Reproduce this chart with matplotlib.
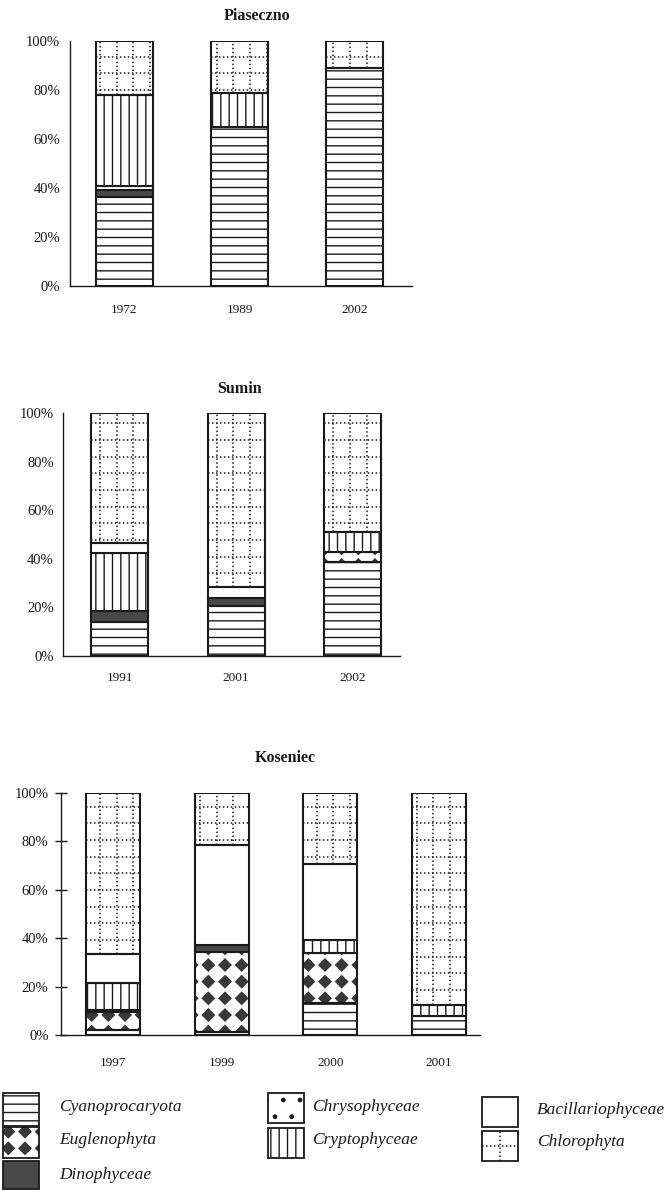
import numpy as np
import matplotlib
matplotlib.use('Agg')
import matplotlib.pyplot as plt
from matplotlib.patches import Rectangle
from matplotlib.lines import Line2D
from matplotlib.collections import PolyCollection
from matplotlib.transforms import IdentityTransform

plt.rcParams['font.family'] = ['Liberation Serif', 'DejaVu Serif']
plt.rcParams['hatch.linewidth'] = 1.0
plt.rcParams['hatch.color'] = '#1a1a1a'

W, H = 668, 1190
INK = '#1a1a1a'
STEP = 100 / 6  # hatch repeat in pixels at 100 dpi

groups = ['Cyanoprocaryota', 'Euglenophyta', 'Dinophyceae', 'Chrysophyceae',
          'Cryptophyceae', 'Bacillariophyceae', 'Chlorophyta']

# shares in % (bottom to top, same order as groups)
piaseczno_years = ['1972', '1989', '2002']
piaseczno_cyano = [36.5, 64.7, 89.0]
piaseczno_eugl = [0, 0, 0]
piaseczno_dino = [2.7, 0, 0]
piaseczno_chryso = [1.5, 0, 0]
piaseczno_crypto = [37.3, 14.0, 0]
piaseczno_bacil = [0, 0, 0]
piaseczno_chloro = [22.0, 21.3, 11.0]

sumin_years = ['1991', '2001', '2002']
sumin_cyano = [14.0, 20.5, 38.8]
sumin_eugl = [0, 0, 4.1]
sumin_dino = [4.6, 3.5, 0]
sumin_chryso = [0, 4.5, 0]
sumin_crypto = [23.9, 0, 8.2]
sumin_bacil = [4.1, 0, 0]
sumin_chloro = [53.4, 71.5, 48.9]

koseniec_years = ['1997', '1999', '2000', '2001']
koseniec_cyano = [2.0, 1.4, 13.2, 7.7]
koseniec_eugl = [7.5, 33.1, 20.6, 0]
koseniec_dino = [1.0, 2.7, 0, 0]
koseniec_chryso = [0, 0, 0, 0]
koseniec_crypto = [11.0, 0, 5.5, 4.5]
koseniec_bacil = [12.0, 41.2, 31.3, 0]
koseniec_chloro = [66.5, 21.6, 29.4, 87.8]

styles = {
    'Cyanoprocaryota': dict(facecolor='white', hatch='--'),
    'Euglenophyta': dict(facecolor='none'),
    'Dinophyceae': dict(facecolor='#484848'),
    'Chrysophyceae': dict(facecolor='white', hatch='.'),
    'Cryptophyceae': dict(facecolor='white', hatch='||'),
    'Bacillariophyceae': dict(facecolor='white'),
    'Chlorophyta': dict(facecolor='none'),
}


def px_box(left, top, right, bottom):
    return [left / W, 1 - bottom / H, (right - left) / W, (bottom - top) / H]


def dotted_grid(ax, patch, only_cross=False):
    bb = patch.get_window_extent()
    if only_cross:
        xs = [(bb.x0 + bb.x1) / 2]
        ys = [(bb.y0 + bb.y1) / 2]
    else:
        xs = np.arange(np.ceil(bb.x0 / STEP) * STEP, bb.x1, STEP)
        ys = np.arange(np.ceil(bb.y0 / STEP) * STEP, bb.y1, STEP)
    segs = [([x, x], [bb.y0, bb.y1]) for x in xs] + [([bb.x0, bb.x1], [y, y]) for y in ys]
    for sx, sy in segs:
        ln = Line2D(sx, sy, transform=IdentityTransform(), color=INK, lw=1.1,
                    ls=(0, (1, 1.6)), zorder=0.5)
        ax.add_artist(ln)
        ln.set_clip_path(patch)


def diamonds(ax, patch, half=7.0):
    bb = patch.get_window_extent()
    xs = np.arange(np.floor(bb.x0 / STEP) * STEP + STEP / 2, bb.x1 + STEP, STEP)
    ys = np.arange(np.floor(bb.y0 / STEP) * STEP + STEP / 2, bb.y1 + STEP, STEP)
    verts = [[(cx - half, cy), (cx, cy + half), (cx + half, cy), (cx, cy - half)]
             for cx in xs for cy in ys]
    pc = PolyCollection(verts, transform=IdentityTransform(), facecolors='#383838',
                        edgecolors='none', zorder=0.5)
    ax.add_artist(pc)
    pc.set_clip_path(patch)


def draw_panel(box, years, shares, title, title_xy, xlim, width, ticks, ypad, xpad):
    ax = fig.add_axes(px_box(*box))
    ax.set_xlim(*xlim)
    ax.set_ylim(0, 100)
    x = np.arange(len(years))
    bottom = np.zeros(len(years))
    for name, vals in zip(groups, shares):
        vals = np.array(vals, dtype=float)
        bars = ax.bar(x, vals, width, bottom=bottom, edgecolor=INK, linewidth=1.5,
                      **styles[name])
        for rect, v in zip(bars, vals):
            if v <= 0:
                rect.set_visible(False)
            elif name == 'Chlorophyta':
                dotted_grid(ax, rect)
            elif name == 'Euglenophyta':
                diamonds(ax, rect)
        bottom += vals
    for s in ['top', 'right']:
        ax.spines[s].set_visible(False)
    for s in ['left', 'bottom']:
        ax.spines[s].set_color(INK)
        ax.spines[s].set_linewidth(1.0)
    ax.set_yticks([0, 20, 40, 60, 80, 100])
    ax.set_yticklabels(['0%', '20%', '40%', '60%', '80%', '100%'])
    ax.set_xticks(x)
    ax.set_xticklabels(years)
    ax.tick_params(axis='x', length=0, pad=xpad, labelsize=9.5, labelcolor=INK)
    if ticks:
        ax.tick_params(axis='y', direction='inout', length=8, width=1.0, color=INK,
                       pad=ypad, labelsize=10.5, labelcolor=INK)
    else:
        ax.tick_params(axis='y', length=0, pad=ypad, labelsize=10.5, labelcolor=INK)
    fig.text(title_xy[0] / W, 1 - title_xy[1] / H, title, ha='center', va='center',
             fontsize=11.5, fontweight='bold', color=INK)
    return ax


fig = plt.figure(figsize=(W / 100, H / 100), dpi=100)

draw_panel((70, 41, 412, 286), piaseczno_years,
           [piaseczno_cyano, piaseczno_eugl, piaseczno_dino, piaseczno_chryso,
            piaseczno_crypto, piaseczno_bacil, piaseczno_chloro],
           'Piaseczno', (257, 16), (-0.474, 2.5), 0.504, False, 7.0, 13)

draw_panel((63, 413, 400, 656), sumin_years,
           [sumin_cyano, sumin_eugl, sumin_dino, sumin_chryso,
            sumin_crypto, sumin_bacil, sumin_chloro],
           'Sumin', (240, 389), (-0.49, 2.41), 0.49, False, 6.5, 11.5)

draw_panel((61, 793, 480, 1035), koseniec_years,
           [koseniec_cyano, koseniec_eugl, koseniec_dino, koseniec_chryso,
            koseniec_crypto, koseniec_bacil, koseniec_chloro],
           'Koseniec', (285, 758), (-0.48, 3.38), 0.5, True, 5.0, 16)

# legend strip, drawn in pixel coordinates
lax = fig.add_axes(px_box(0, 1085, W, H))
lax.set_xlim(0, W)
lax.set_ylim(H, 1085)
lax.axis('off')

legend_boxes = {
    'Cyanoprocaryota': (3, 1093, 39, 1126),
    'Euglenophyta': (3, 1127, 39, 1158),
    'Dinophyceae': (3, 1161, 39, 1189),
    'Chrysophyceae': (268, 1093, 304, 1123),
    'Cryptophyceae': (268, 1128, 304, 1158),
    'Bacillariophyceae': (482, 1097, 518, 1127),
    'Chlorophyta': (482, 1131, 518, 1161),
}
legend_text = {
    'Cyanoprocaryota': (59, 1107), 'Euglenophyta': (59, 1140), 'Dinophyceae': (59, 1175),
    'Chrysophyceae': (312, 1107), 'Cryptophyceae': (312, 1140),
    'Bacillariophyceae': (537, 1110), 'Chlorophyta': (537, 1142),
}
for name in groups:
    x0, y0, x1, y1 = legend_boxes[name]
    r = Rectangle((x0, y0), x1 - x0, y1 - y0, edgecolor=INK, linewidth=1.3,
                  **styles[name])
    lax.add_patch(r)
    if name == 'Chlorophyta':
        dotted_grid(lax, r, only_cross=True)
    elif name == 'Euglenophyta':
        diamonds(lax, r)
    tx, ty = legend_text[name]
    lax.text(tx, ty, name, fontsize=12.5, fontstyle='italic', va='center', ha='left',
             color=INK)

fig.savefig('out.png', dpi=100)
